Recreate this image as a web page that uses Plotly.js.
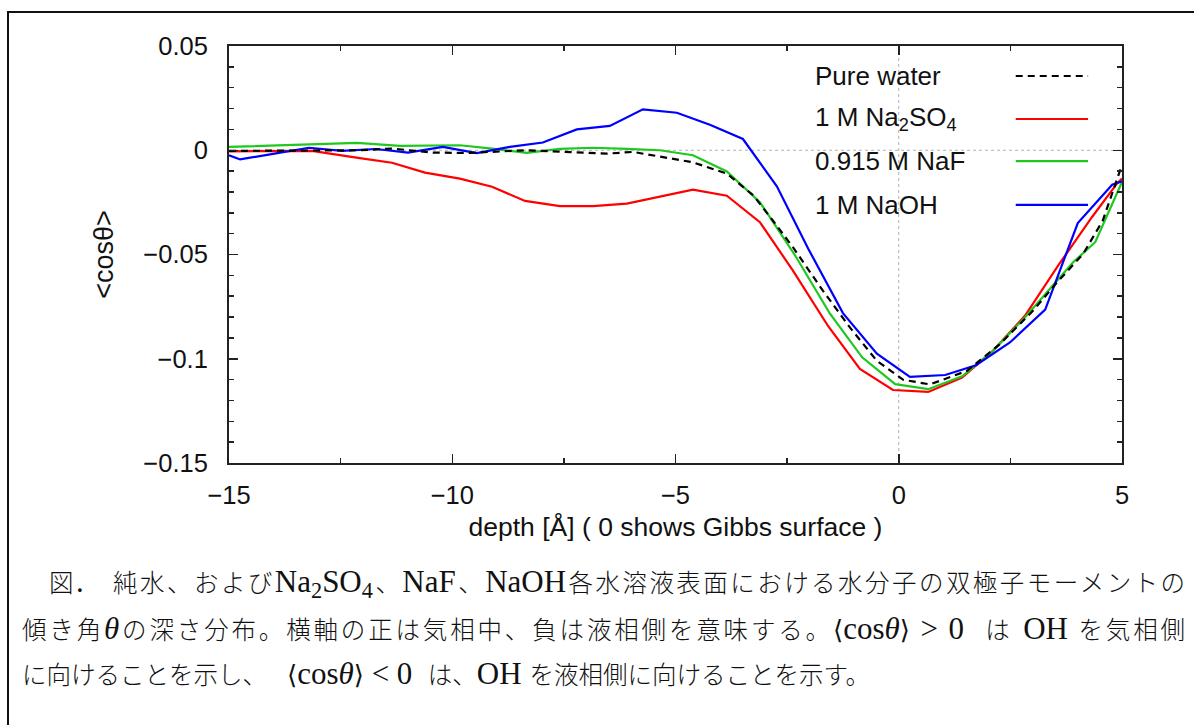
<!DOCTYPE html>
<html>
<head>
<meta charset="utf-8">
<script src="https://cdn.plot.ly/plotly-3.0.1.min.js"></script>
<style>
  html, body { margin:0; padding:0; background:#fff; }
  #wrap { position:relative; width:1194px; height:725px; overflow:hidden; background:#fff; }
  #chart { position:absolute; left:0; top:0; width:1194px; height:725px; }
  #frame { position:absolute; left:7px; top:11px; width:1200px; height:800px;
           border-left:2px solid #111; border-top:2px solid #111; pointer-events:none; }
  .cap { position:absolute; left:22px; width:1163px; white-space:nowrap;
         font-family:"Liberation Serif","DejaVu Serif",serif;
         font-size:31px; line-height:34px; color:#111; }
  .cap .j { font-family:"Noto Sans CJK JP",sans-serif; font-size:24.5px; font-weight:300; }
  .cap .br { font-family:"DejaVu Serif",serif; font-weight:normal; font-size:26px; }
  .cap sub { font-size:0.72em; vertical-align:-0.25em; line-height:0; }
  .cap i { font-style:italic; }
  .just { text-align:justify; text-align-last:justify; white-space:normal; }
</style>
</head>
<body>
<div id="wrap">
  <div id="chart"></div>
  <div id="frame"></div>
  <div class="cap just" style="top:565px;"><span class="j">&#x3000;図</span>.<span class="j">&#x3000;純水、および</span>Na<sub>2</sub>SO<sub>4</sub><span class="j">、</span>NaF<span class="j">、</span>NaOH<span class="j">各水溶液表面における水分子の双極子モーメントの</span></div>
  <div class="cap just" style="top:612px;"><span class="j">傾き角</span><i>θ</i><span class="j">の深さ分布。横軸の正は気相中、負は液相側を意味する。</span><span class="br">⟨</span>cos<i>θ</i><span class="br">⟩</span> &gt; 0&nbsp; <span class="j">は</span> OH <span class="j">を気相側</span></div>
  <div class="cap" style="top:657px;"><span class="j">に向けることを示し、</span><span style="display:inline-block;width:20px"></span><span class="br">⟨</span>cos<i>θ</i><span class="br">⟩</span> &lt; 0&nbsp; <span class="j">は、</span>OH <span class="j">を液相側に向けることを示す。</span></div>
</div>
<script>
// ---- data ----
const seriesNames = ["Pure water", "1 M Na<sub>2</sub>SO<sub>4</sub>", "0.915 M NaF", "1 M NaOH"];

const pureX = [-15, -13.41, -12.07, -11.35, -10.45, -9.67, -8.33, -7.81, -7.21, -6.53, -5.95, -5.35, -4.61, -3.85, -3.26, -2.82, -2.37, -1.70, -1.09, -0.49, 0.10, 0.70, 1.53, 2.27, 3.01, 3.54, 4.13, 4.57, 5.0];
const pureY = [-0.0003, -0.0002, 0.0, 0.0008, -0.0011, -0.0013, 0.0, -0.0005, -0.0011, -0.0016, -0.0008, -0.0032, -0.0058, -0.0112, -0.0216, -0.0337, -0.0465, -0.0673, -0.0851, -0.1010, -0.1101, -0.1123, -0.1058, -0.0929, -0.0769, -0.0635, -0.0497, -0.0337, -0.0070];

const na2so4X = [-15, -14.26, -13.14, -12.11, -11.35, -10.61, -9.83, -9.11, -8.37, -7.59, -6.85, -6.09, -5.35, -4.61, -3.85, -3.11, -2.37, -1.58, -0.87, -0.13, 0.66, 1.42, 2.11, 2.83, 3.58, 4.33, 4.89, 5.0];
const na2so4Y = [-0.0005, -0.0004, -0.0003, -0.0037, -0.0060, -0.0107, -0.0136, -0.0175, -0.0243, -0.0268, -0.0268, -0.0256, -0.0221, -0.0189, -0.0218, -0.0345, -0.0577, -0.0844, -0.1049, -0.1150, -0.1159, -0.1090, -0.0962, -0.0793, -0.0550, -0.0320, -0.0159, -0.0135];

const nafX = [-15, -13.19, -12.13, -11.17, -9.83, -9.11, -8.33, -7.59, -6.85, -6.09, -5.35, -4.61, -3.85, -3.11, -2.32, -1.54, -0.82, -0.08, 0.66, 1.42, 2.11, 2.83, 3.39, 3.90, 4.40, 5.0];
const nafY = [0.0016, 0.0029, 0.0035, 0.0021, 0.0024, 0.0008, -0.0013, 0.0007, 0.0012, 0.0007, 0.0, -0.0024, -0.0102, -0.0249, -0.0505, -0.0784, -0.0993, -0.1122, -0.1146, -0.1084, -0.0962, -0.0801, -0.0663, -0.0538, -0.0441, -0.0152];

const naohX = [-15, -14.75, -13.98, -13.21, -12.47, -11.71, -10.99, -10.21, -9.45, -8.71, -7.97, -7.21, -6.47, -5.73, -4.97, -4.23, -3.49, -2.73, -2.03, -1.25, -0.49, 0.25, 1.04, 1.73, 2.49, 3.28, 4.01, 4.78, 5.0];
const naohY = [-0.0024, -0.0044, -0.0016, 0.0012, -0.0003, 0.0006, -0.0011, 0.0016, -0.0014, 0.0016, 0.0037, 0.0100, 0.0117, 0.0196, 0.0180, 0.0122, 0.0054, -0.0173, -0.0471, -0.0781, -0.0976, -0.1087, -0.1078, -0.1031, -0.0922, -0.0764, -0.0349, -0.0165, -0.0149];

const xTitle = "depth [Å] ( 0 shows Gibbs surface )";
const yTitle = "&lt;cosθ&gt;";

// ---- styles ----
const colors = ["#000000", "#ff0000", "#1ec81e", "#0000ff"];
const dashes = ["7px,5px", "solid", "solid", "solid"];
const xs = [pureX, na2so4X, nafX, naohX];
const ys = [pureY, na2so4Y, nafY, naohY];

const traces = xs.map((x, i) => ({
  type: "scatter", mode: "lines", x: x, y: ys[i], name: seriesNames[i],
  line: { color: colors[i], width: 2.2, dash: dashes[i] }, hoverinfo: "skip"
}));
// draw order like the reference: red, green, blue, then dashed black on top
const ordered = [traces[1], traces[2], traces[3], traces[0]];

const FONT = "Liberation Sans, Arial, sans-serif";

// legend (gnuplot style: text left, sample right)
const legRows = [0.928, 0.825, 0.724, 0.619];
const annotations = seriesNames.map((n, i) => ({
  xref: "paper", yref: "paper", x: 0.654, y: legRows[i], xanchor: "left", yanchor: "middle",
  text: n, showarrow: false, font: { family: FONT, size: 26, color: "#111" }
}));
const shapes = seriesNames.map((n, i) => ({
  type: "line", xref: "paper", yref: "paper", x0: 0.881, x1: 0.962, y0: legRows[i], y1: legRows[i],
  line: { color: colors[i], width: 2.2, dash: i === 0 ? "7px,5px" : "solid" }
}));
// dotted zero axes
shapes.unshift(
  { type: "line", xref: "x", yref: "paper", x0: 0, x1: 0, y0: 0, y1: 1, layer: "below",
    line: { color: "#b0b0b0", width: 1, dash: "dot" } },
  { type: "line", xref: "paper", yref: "y", x0: 0, x1: 1, y0: 0, y1: 0, layer: "below",
    line: { color: "#b0b0b0", width: 1, dash: "dot" } }
);

const axisCommon = {
  showline: true, linewidth: 2, linecolor: "#222", mirror: "ticks",
  ticks: "inside", ticklen: 9, tickwidth: 1.5, tickcolor: "#222",
  showgrid: false, zeroline: false, automargin: false,
  tickfont: { family: FONT, size: 25.5, color: "#111" }
};

const layout = {
  width: 1194, height: 725,
  margin: { l: 229, r: 72, t: 46, b: 262, pad: 0 },
  paper_bgcolor: "rgba(0,0,0,0)", plot_bgcolor: "#fff",
  showlegend: false,
  font: { family: FONT, size: 25, color: "#111" },
  xaxis: Object.assign({}, axisCommon, {
    range: [-15, 5], tick0: -15, dtick: 5, ticklabelstandoff: 8,
    minor: { dtick: 2.5, ticks: "inside", ticklen: 5, tickwidth: 1.5, tickcolor: "#222", showgrid: false },
    title: { text: xTitle, font: { family: FONT, size: 26.5, color: "#111" }, standoff: 10 }
  }),
  yaxis: Object.assign({}, axisCommon, {
    range: [-0.15, 0.05], tick0: 0, dtick: 0.05, ticklabelstandoff: 14,
    minor: { dtick: 0.01, ticks: "inside", ticklen: 5, tickwidth: 1.5, tickcolor: "#222", showgrid: false },
    title: { text: yTitle, font: { family: FONT, size: 27, color: "#111" }, standoff: 22 }
  }),
  annotations: annotations,
  shapes: shapes
};

Plotly.newPlot("chart", ordered, layout, { displayModeBar: false, staticPlot: true });
</script>
</body>
</html>
